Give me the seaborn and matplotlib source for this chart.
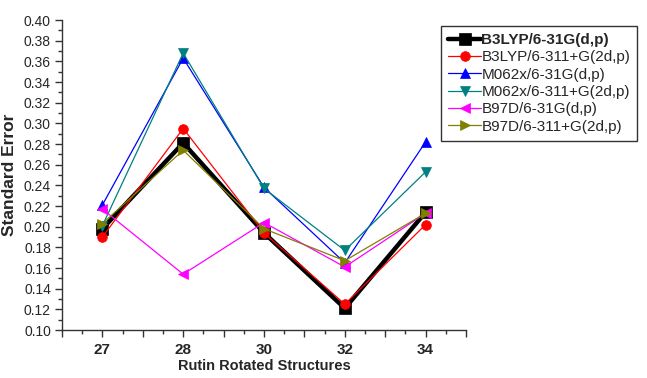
import matplotlib
matplotlib.use("Agg")
import matplotlib.pyplot as plt
import seaborn as sns
import pandas as pd
import numpy as np
from matplotlib.ticker import MultipleLocator, FixedLocator, FixedFormatter

structures = ["27", "28", "30", "32", "34"]
series_names = ["B3LYP/6-31G(d,p)", "B3LYP/6-311+G(2d,p)", "M062x/6-31G(d,p)",
                "M062x/6-311+G(2d,p)", "B97D/6-31G(d,p)", "B97D/6-311+G(2d,p)"]
b3lyp_631 = [0.198, 0.281, 0.194, 0.121, 0.214]
b3lyp_6311 = [0.190, 0.295, 0.194, 0.125, 0.202]
m062x_631 = [0.221, 0.363, 0.238, 0.165, 0.282]
m062x_6311 = [0.201, 0.368, 0.237, 0.177, 0.253]
b97d_631 = [0.217, 0.154, 0.204, 0.161, 0.213]
b97d_6311 = [0.203, 0.274, 0.198, 0.167, 0.213]
all_values = [b3lyp_631, b3lyp_6311, m062x_631, m062x_6311, b97d_631, b97d_6311]

colors = ["#000000", "#ff0000", "#0000ff", "#008080", "#ff00ff", "#808000"]
markers = ["s", "o", "^", "v", "<", ">"]
lws = [3.2, 0.9, 0.9, 0.9, 0.9, 0.9]
msizes = [8, 7, 7, 7, 7, 7]

rows = []
for name, vals in zip(series_names, all_values):
    for i, (s, v) in enumerate(zip(structures, vals)):
        rows.append({"pos": i + 1, "structure": s, "method": name, "value": v})
df = pd.DataFrame(rows)

sns.set_style("white")
plt.rcParams["font.family"] = ["Liberation Sans", "DejaVu Sans"]

fig = plt.figure(figsize=(6.47, 3.78), dpi=100)
ax = fig.add_axes([62 / 647, 1 - 330 / 378, (466 - 62) / 647, (330 - 20) / 378])

for k in range(len(series_names)):
    sub = df[df["method"] == series_names[k]]
    sns.lineplot(data=sub, x="pos", y="value", ax=ax, color=colors[k], marker=markers[k],
                 markersize=msizes[k], linewidth=lws[k], markeredgecolor=colors[k],
                 markeredgewidth=0.5, label=series_names[k], legend=False, zorder=2 + k)

ax.set_xlim(0.5, 5.5)
ax.set_ylim(0.10, 0.40)
ticks = np.arange(0.5, 5.51, 0.5)
labels = [structures[int(round(t)) - 1] if abs(t - round(t)) < 1e-6 and 1 <= round(t) <= 5 else "" for t in ticks]
ax.xaxis.set_major_locator(FixedLocator(ticks))
ax.xaxis.set_major_formatter(FixedFormatter(labels))
ax.xaxis.set_minor_locator(MultipleLocator(0.25))
ax.yaxis.set_major_locator(MultipleLocator(0.02))
ax.yaxis.set_minor_locator(MultipleLocator(0.01))
ax.yaxis.set_major_formatter(matplotlib.ticker.FormatStrFormatter("%.2f"))

for side in ["top", "right"]:
    ax.spines[side].set_visible(False)
for side in ["left", "bottom"]:
    ax.spines[side].set_color("#333333")
    ax.spines[side].set_linewidth(1.0)

ax.tick_params(axis="both", which="major", direction="out", length=5, width=1, color="#333333",
               bottom=True, left=True)
ax.tick_params(axis="both", which="minor", direction="out", length=3, width=1, color="#333333",
               bottom=True, left=True)
ax.tick_params(axis="y", labelsize=10, pad=3)
ax.tick_params(axis="x", labelsize=11, pad=4)
for lab in ax.get_xticklabels():
    lab.set_fontweight("bold")

ax.set_xlabel("Rutin Rotated Structures", fontsize=10.5, fontweight="bold", labelpad=2)
ax.set_ylabel("Standard Error", fontsize=12.5, fontweight="bold", labelpad=5)
ax.grid(False)

h, l = ax.get_legend_handles_labels()
leg = fig.legend(h, l, loc="upper left", bbox_to_anchor=(441 / 647, 1 - 26 / 378),
                 bbox_transform=fig.transFigure, frameon=True, fancybox=False,
                 fontsize=11, handlelength=2.2, handletextpad=0.0, labelspacing=0.22,
                 borderpad=0.45, borderaxespad=0)
leg.get_frame().set_edgecolor("black")
leg.get_frame().set_linewidth(1.0)
leg.get_texts()[0].set_fontweight("bold")

fig.savefig("out.png", dpi=100)
